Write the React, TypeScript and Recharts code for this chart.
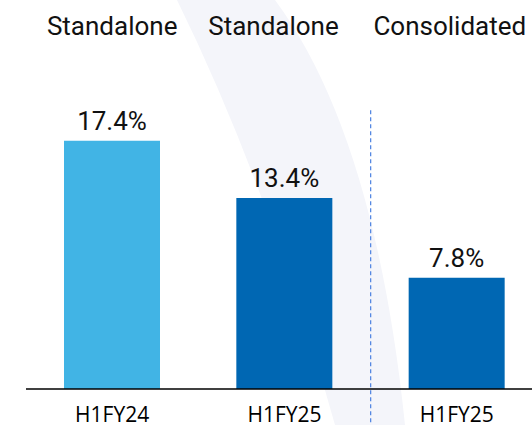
import { BarChart, Bar, Cell, XAxis, YAxis, LabelList, ReferenceLine } from 'recharts'

const periods = ['H1FY24', 'H1FY25', 'H1FY25']
const entities = ['Standalone', 'Standalone', 'Consolidated']
const ebitdaMargins = [17.4, 13.4, 7.8]

const data = periods.map((p, i) => ({
  id: `${entities[i]} ${p}`,
  period: p,
  entity: entities[i],
  margin: ebitdaMargins[i],
}))

const barColors = ['#41B4E5', '#0067B3', '#0067B3']
// small nudges so the headers sit like the slide
const headerShift = [0, -11, -7]

const HeaderTick = (props: any) => {
  const { x, y, index, payload } = props
  const label = String(payload.value).split(' ')[0]
  return (
    <text
      x={x + (headerShift[index] || 0)}
      y={y}
      textAnchor='middle'
      fill='#111'
      style={{ fontFamily: 'Roboto', fontSize: 26 }}
    >
      {label}
    </text>
  )
}

const PeriodTick = (props: any) => {
  const { x, y, payload } = props
  return (
    <text
      x={x}
      y={y}
      textAnchor='middle'
      fill='#000'
      style={{ fontFamily: 'Open Sans', fontSize: 21 }}
    >
      {String(payload.value).split(' ')[1]}
    </text>
  )
}

export default function App() {
  return (
    <div
      style={{
        position: 'fixed',
        left: 0,
        top: 0,
        width: 532,
        height: 425,
        overflow: 'hidden',
        background: '#fff',
        fontFamily: 'Roboto',
      }}
    >
      {/* faint watermark arc behind the chart */}
      <svg
        width={532}
        height={425}
        style={{ position: 'absolute', left: 0, top: 0 }}
      >
        <path
          d='M177,0 Q268,185 335,425 L405,425 Q375,135 275,0 Z'
          fill='#F4F5FA'
        />
      </svg>
      <div style={{ position: 'absolute', left: 0, top: 0 }}>
        <BarChart
          width={560}
          height={425}
          data={data}
          margin={{ top: 0, right: 17, bottom: 0, left: 26 }}
        >
          <XAxis
            xAxisId='top'
            orientation='top'
            dataKey='id'
            height={61}
            axisLine={false}
            tickLine={false}
            tickSize={0}
            tickMargin={26}
            tick={<HeaderTick />}
            interval={0}
          />
          <XAxis
            dataKey='id'
            height={36}
            axisLine={{ stroke: '#000', strokeWidth: 1.5 }}
            tickLine={false}
            tickSize={0}
            tickMargin={33}
            interval={0}
            tick={<PeriodTick />}
          />
          <YAxis hide domain={[0, 23]} />
          <ReferenceLine
            segment={[
              { x: 'Consolidated H1FY25', y: 19.55 },
              { x: 'Consolidated H1FY25', y: -2.6 },
            ]}
            position='start'
            ifOverflow='visible'
            stroke='#4A80E0'
            strokeWidth={1.2}
            strokeDasharray='4 3'
          />
          <Bar dataKey='margin' barSize={96} isAnimationActive={false}>
            {data.map((d, i) => (
              <Cell key={d.id} fill={barColors[i]} />
            ))}
            <LabelList
              dataKey='margin'
              position='top'
              offset={11}
              formatter={(v: any) => `${v}%`}
              style={{ fill: '#111', fontSize: 26, fontFamily: 'Roboto' }}
            />
          </Bar>
        </BarChart>
      </div>
    </div>
  )
}
